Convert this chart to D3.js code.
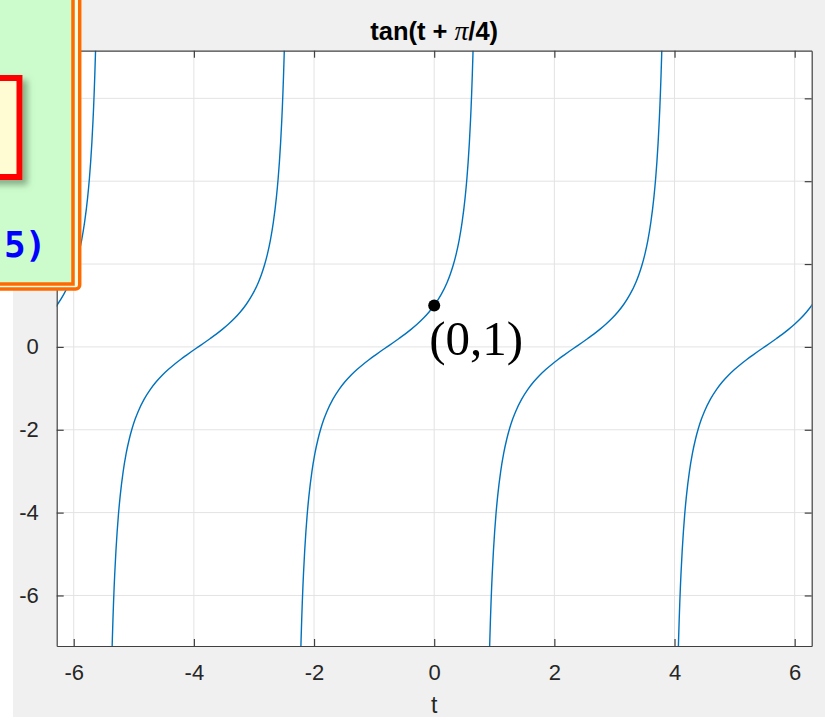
<!DOCTYPE html>
<html>
<head>
<meta charset="utf-8">
<script src="https://cdn.jsdelivr.net/npm/d3@7/dist/d3.min.js"></script>
<style>
  html, body { margin: 0; padding: 0; background: #ffffff; }
  svg { display: block; }
</style>
</head>
<body>
<svg id="chart" width="825" height="720"></svg>
<script>
// ---------- data ----------
const tLimits = [-6.2832, 6.2832];
const yLimits = [-7.22, 7.15];
const xTicks = [-6, -4, -2, 0, 2, 4, 6];
const yTicks = [-6, -4, -2, 0, 2, 4, 6];
const xTickLabels = ["-6", "-4", "-2", "0", "2", "4", "6"];
const yTickLabels = ["-6", "-4", "-2", "0", "2", "4", "6"];
// centres of each tan branch (where the curve crosses zero)
const branchCenters = [-7.0686, -3.9270, -0.7854, 2.3562, 5.4978];
// shape of one branch: offset from centre, and value
const branchOffsets = [-1.46, -1.45, -1.44, -1.43, -1.42, -1.41, -1.40, -1.39, -1.37, -1.35, -1.33, -1.30, -1.25, -1.20, -1.15, -1.10, -1.05, -1.00, -0.90, -0.80, -0.70, -0.60, -0.50, -0.40, -0.30, -0.20, -0.10, 0.00, 0.10, 0.20, 0.30, 0.40, 0.50, 0.60, 0.70, 0.80, 0.90, 1.00, 1.05, 1.10, 1.15, 1.20, 1.25, 1.30, 1.33, 1.35, 1.37, 1.39, 1.40, 1.41, 1.42, 1.43, 1.44, 1.45, 1.46];
const branchValues = [-8.989, -8.238, -7.602, -7.055, -6.581, -6.165, -5.798, -5.470, -4.913, -4.455, -4.072, -3.602, -3.010, -2.572, -2.235, -1.965, -1.743, -1.557, -1.260, -1.030, -0.842, -0.684, -0.546, -0.423, -0.309, -0.203, -0.100, 0.000, 0.100, 0.203, 0.309, 0.423, 0.546, 0.684, 0.842, 1.030, 1.260, 1.557, 1.743, 1.965, 2.235, 2.572, 3.010, 3.602, 4.072, 4.455, 4.913, 5.470, 5.798, 6.165, 6.581, 7.055, 7.602, 8.238, 8.989];
const markedPoint = { t: 0, y: 1, label: "(0,1)" };
const titleMain = "tan(t + ";
const titlePi = "\u03C0";
const titleEnd = "/4)";
const xLabel = "t";

// ---------- layout ----------
const svg = d3.select("#chart");
const plot = { left: 56.7, right: 811.7, top: 50.7, bottom: 646 };
const x = d3.scaleLinear().domain(tLimits).range([plot.left, plot.right]);
const y = d3.scaleLinear().domain(yLimits).range([plot.bottom, plot.top]);
const axisColor = "#404040";
const font = "'Liberation Sans', Arial, Helvetica, sans-serif";

// figure background (screenshot with white margin)
svg.append("rect").attr("x", 13).attr("y", 0).attr("width", 812).attr("height", 717).attr("fill", "#f0f0f0");
// axes background
svg.append("rect").attr("x", plot.left).attr("y", plot.top)
  .attr("width", plot.right - plot.left).attr("height", plot.bottom - plot.top).attr("fill", "#ffffff");

// grid
const grid = svg.append("g");
grid.selectAll("line.gx").data(xTicks).join("line")
  .attr("x1", d => x(d)).attr("x2", d => x(d)).attr("y1", plot.top).attr("y2", plot.bottom)
  .attr("stroke", "#e3e3e3").attr("stroke-width", 1);
grid.selectAll("line.gy").data(yTicks).join("line")
  .attr("y1", d => y(d)).attr("y2", d => y(d)).attr("x1", plot.left).attr("x2", plot.right)
  .attr("stroke", "#e3e3e3").attr("stroke-width", 1);

// clip
svg.append("clipPath").attr("id", "plotclip").append("rect")
  .attr("x", plot.left).attr("y", plot.top)
  .attr("width", plot.right - plot.left).attr("height", plot.bottom - plot.top);

// curve branches
const line = d3.line().x(d => x(d[0])).y(d => y(d[1])).curve(d3.curveMonotoneX);
const branches = branchCenters.map(c => branchOffsets.map((o, i) => [c + o, branchValues[i]]));
svg.append("g").attr("clip-path", "url(#plotclip)")
  .selectAll("path").data(branches).join("path")
  .attr("d", line).attr("fill", "none").attr("stroke", "#0072BD").attr("stroke-width", 1.4);

// axes with inward ticks on all four sides
const tickLen = 7;
const bottomAxis = d3.axisBottom(x).tickValues(xTicks).tickSizeInner(-tickLen).tickSizeOuter(0).tickPadding(18)
  .tickFormat((d, i) => xTickLabels[i]);
const topAxis = d3.axisTop(x).tickValues(xTicks).tickSizeInner(-tickLen).tickSizeOuter(0).tickFormat("");
const leftAxis = d3.axisLeft(y).tickValues(yTicks).tickSizeInner(-tickLen).tickSizeOuter(0).tickPadding(18)
  .tickFormat((d, i) => yTickLabels[i]);
const rightAxis = d3.axisRight(y).tickValues(yTicks).tickSizeInner(-tickLen).tickSizeOuter(0).tickFormat("");

function styleAxis(g) {
  g.select(".domain").attr("stroke", axisColor).attr("stroke-width", 1.2);
  g.selectAll(".tick line").attr("stroke", axisColor).attr("stroke-width", 1.2);
  g.selectAll(".tick text").attr("fill", "#262626").attr("font-family", font).attr("font-size", 22);
}
svg.append("g").attr("transform", `translate(0,${plot.bottom})`).call(bottomAxis).call(styleAxis);
svg.append("g").attr("transform", `translate(0,${plot.top})`).call(topAxis).call(styleAxis);
svg.append("g").attr("transform", `translate(${plot.left},0)`).call(leftAxis).call(styleAxis);
svg.append("g").attr("transform", `translate(${plot.right},0)`).call(rightAxis).call(styleAxis);

// title
const title = svg.append("text").attr("x", (plot.left + plot.right) / 2).attr("y", 40)
  .attr("text-anchor", "middle").attr("font-family", font).attr("font-size", 25.5)
  .attr("font-weight", "bold").attr("fill", "#000");
title.append("tspan").text(titleMain);
title.append("tspan").attr("font-family", "'Liberation Serif', 'Times New Roman', serif")
  .attr("font-style", "italic").attr("font-weight", "normal").attr("font-size", 27.5).text(titlePi);
title.append("tspan").text(titleEnd);

// x label
svg.append("text").attr("x", (plot.left + plot.right) / 2).attr("y", 713)
  .attr("text-anchor", "middle").attr("font-family", font).attr("font-size", 23)
  .attr("fill", "#262626").text(xLabel);

// marked point
svg.append("circle").attr("cx", x(markedPoint.t)).attr("cy", y(markedPoint.y)).attr("r", 6).attr("fill", "#000");
svg.append("text").attr("x", x(markedPoint.t) - 5).attr("y", 355)
  .attr("font-family", "'Liberation Serif', 'Times New Roman', serif").attr("font-size", 49)
  .attr("fill", "#000").text(markedPoint.label);

// ---------- overlay slide box (top-left) ----------
const defs = svg.append("defs");
const f = defs.append("filter").attr("id", "shadow").attr("x", "-20%").attr("y", "-20%").attr("width", "160%").attr("height", "160%");
f.append("feDropShadow").attr("dx", 5).attr("dy", 5).attr("stdDeviation", 3).attr("flood-color", "#5a7a5a").attr("flood-opacity", 0.6);

const ov = svg.append("g");
ov.append("rect").attr("x", -10).attr("y", -10).attr("width", 89.7).attr("height", 299)
  .attr("rx", 4).attr("fill", "#e8ffe8").attr("stroke", "#ff6a00").attr("stroke-width", 3.5);
ov.append("rect").attr("x", -10).attr("y", -10).attr("width", 83).attr("height", 294)
  .attr("fill", "#ccfccc").attr("stroke", "#ff6a00").attr("stroke-width", 3.5);
ov.append("rect").attr("x", -20).attr("y", 78).attr("width", 39.5).attr("height", 99)
  .attr("fill", "#fffcd4").attr("stroke", "#ff0000").attr("stroke-width", 6).attr("filter", "url(#shadow)");
ov.append("text").attr("x", 4).attr("y", 257).attr("font-family", "'DejaVu Sans Mono', monospace")
  .attr("font-weight", "bold").attr("font-size", 36).attr("letter-spacing", -1).attr("fill", "#0000ff").text("5)");
</script>
</body>
</html>
